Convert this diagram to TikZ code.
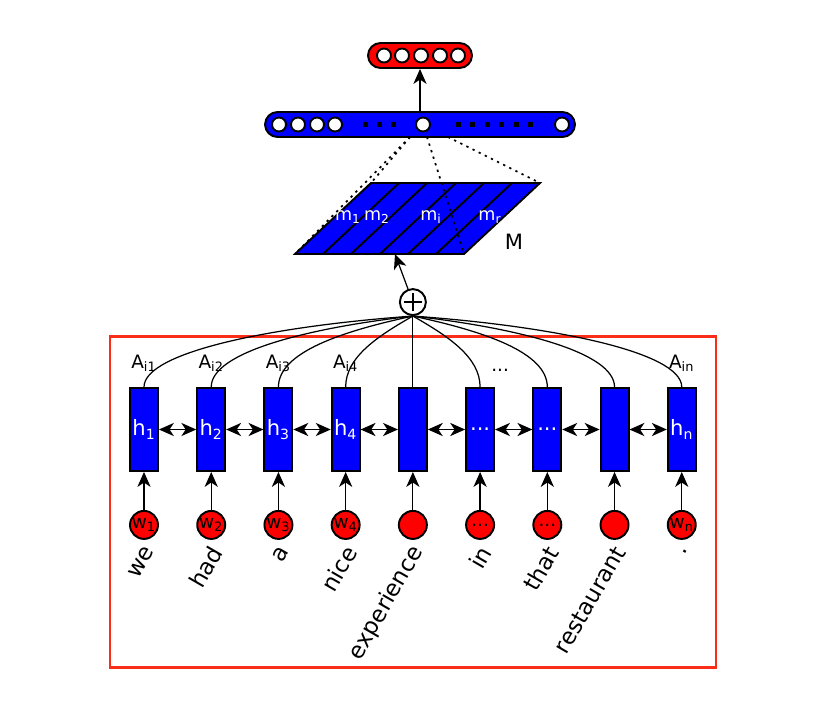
\documentclass[tikz,border=0pt]{standalone}
\usepackage{fontspec}
\setmainfont{DejaVu Sans}
\usepackage{xcolor}
\usetikzlibrary{arrows.meta, positioning}

\definecolor{framered}{RGB}{250,45,25}

\begin{document}
\begin{tikzpicture}[x=0.02cm, y=-0.02cm, >={Stealth[length=8.5pt, width=7.5pt, inset=2.5pt]}, line width=0.7pt,
        hbox/.style={rectangle, draw, line width=1.1pt, fill=blue, text=white, minimum width=0.56cm, minimum height=1.66cm, inner sep=0pt, font=\fontsize{12}{14}\selectfont},
        wnode/.style={circle, draw, line width=1.1pt, fill=red, minimum size=0.56cm, inner sep=0pt, font=\fontsize{10.5}{12}\selectfont},
        word/.style={rotate=60, anchor=east, inner sep=0pt, font=\fontsize{13}{15}\selectfont},
        alabel/.style={inner sep=0pt, font=\fontsize{10.5}{12}\selectfont},
        sumnode/.style={circle, draw, line width=1.1pt, fill=white, minimum size=0.52cm, inner sep=0pt,
            path picture={\draw[line width=0.9pt] ([xshift=-0.18cm]path picture bounding box.center) -- ([xshift=0.18cm]path picture bounding box.center)
                ([yshift=-0.18cm]path picture bounding box.center) -- ([yshift=0.18cm]path picture bounding box.center);}},
        bar/.style={rectangle, rounded corners=0.25cm, draw, line width=1.1pt, minimum height=0.5cm, inner sep=0pt},
        unit/.style={circle, draw, line width=1.1pt, fill=white, minimum size=0.28cm, inner sep=0pt},
        gapmark/.style={rectangle, fill=black, minimum size=0.1cm, inner sep=0pt},
        mlabel/.style={text=white, inner sep=0pt, font=\fontsize{10}{12}\selectfont},
        proj/.style={dash pattern=on 1.3pt off 2.6pt, line width=1pt}]

    \useasboundingbox (0,0) rectangle (840,718);

    % frame round the encoder
    \draw[framered, line width=1.7pt] (110,336) rectangle (716,667);

    % hidden states
    \node (h1) [hbox] at (144,429.5) {h\textsubscript{1}};
    \node (h2) [hbox, right=0.746cm of h1] {h\textsubscript{2}};
    \node (h3) [hbox, right=0.746cm of h2] {h\textsubscript{3}};
    \node (h4) [hbox, right=0.746cm of h3] {h\textsubscript{4}};
    \node (h5) [hbox, right=0.746cm of h4] {};
    \node (h6) [hbox, right=0.746cm of h5] {...};
    \node (h7) [hbox, right=0.746cm of h6] {...};
    \node (h8) [hbox, right=0.746cm of h7] {};
    \node (h9) [hbox, right=0.746cm of h8] {h\textsubscript{n}};

    % words
    \node (w1) [wnode, below=0.76cm of h1] {w\textsubscript{1}};
    \node (w2) [wnode, below=0.76cm of h2] {w\textsubscript{2}};
    \node (w3) [wnode, below=0.76cm of h3] {w\textsubscript{3}};
    \node (w4) [wnode, below=0.76cm of h4] {w\textsubscript{4}};
    \node (w5) [wnode, below=0.76cm of h5] {};
    \node (w6) [wnode, below=0.76cm of h6] {...};
    \node (w7) [wnode, below=0.76cm of h7] {...};
    \node (w8) [wnode, below=0.76cm of h8] {};
    \node (w9) [wnode, below=0.76cm of h9] {w\textsubscript{n}};

    \node (t1) [word] at ([xshift=0.11cm, yshift=-0.16cm]w1.south) {we};
    \node (t2) [word] at ([xshift=0.11cm, yshift=-0.16cm]w2.south) {had};
    \node (t3) [word] at ([xshift=0.11cm, yshift=-0.16cm]w3.south) {a};
    \node (t4) [word] at ([xshift=0.11cm, yshift=-0.16cm]w4.south) {nice};
    \node (t5) [word] at ([xshift=0.11cm, yshift=-0.16cm]w5.south) {experience};
    \node (t6) [word] at ([xshift=0.11cm, yshift=-0.16cm]w6.south) {in};
    \node (t7) [word] at ([xshift=0.11cm, yshift=-0.16cm]w7.south) {that};
    \node (t8) [word] at ([xshift=0.11cm, yshift=-0.16cm]w8.south) {restaurant};
    \node (t9) [word] at ([xshift=0.11cm, yshift=-0.16cm]w9.south) {.};

    % attention weights
    \node (a1) [alabel, above=0.3cm of h1] {A\textsubscript{i1}};
    \node (a2) [alabel, above=0.3cm of h2] {A\textsubscript{i2}};
    \node (a3) [alabel, above=0.3cm of h3] {A\textsubscript{i3}};
    \node (a4) [alabel, above=0.3cm of h4] {A\textsubscript{i4}};
    \node (a6) [alabel, above=0.3cm of h6, xshift=0.4cm] {...};
    \node (a9) [alabel, above=0.3cm of h9] {A\textsubscript{in}};

    \node (sum) [sumnode, above=1.42cm of h5] {};

    % sentence matrix
    \coordinate (Mbl) at (295,254);
    \coordinate (Mbr) at (464,254);
    \coordinate (Mtr) at (540,183);
    \coordinate (Mtl) at (371,183);
    \coordinate (Mtip) at (395,254);
    \filldraw[fill=blue, line width=1.1pt] (Mbl) -- (Mbr) -- (Mtr) -- (Mtl) -- cycle;
    \draw[line width=1.1pt] (323,254) -- (399,183) (351,254) -- (427,183) (380,254) -- (456,183)
        (408,254) -- (484,183) (436,254) -- (512,183);
    \node (m1) [mlabel] at (348,217) {m\textsubscript{1}};
    \node (m2) [mlabel] at (377,217) {m\textsubscript{2}};
    \node (mi) [mlabel] at (431,217) {m\textsubscript{i}};
    \node (mr) [mlabel] at (490,217) {m\textsubscript{r}};
    \node (M) [font=\fontsize{12}{14}\selectfont] at (514,242) {M};

    % hidden layer and output
    \node (hid) [bar, fill=blue, minimum width=6.2cm] at (420,124.5) {};
    \node (u1) [unit] at (279,124.5) {};
    \node (u2) [unit] at (298,124.5) {};
    \node (u3) [unit] at (317,124.5) {};
    \node (u4) [unit] at (335,124.5) {};
    \node (u5) [unit] at (423,124.5) {};
    \node (u6) [unit] at (562,124.5) {};
    \node (g1) [gapmark] at (365,124.5) {};
    \node (g2) [gapmark] at (379,124.5) {};
    \node (g3) [gapmark] at (393,124.5) {};
    \node (g4) [gapmark] at (458,124.5) {};
    \node (g5) [gapmark] at (472,124.5) {};
    \node (g6) [gapmark] at (487,124.5) {};
    \node (g7) [gapmark] at (501,124.5) {};
    \node (g8) [gapmark] at (516,124.5) {};
    \node (g9) [gapmark] at (530,124.5) {};

    \node (out) [bar, fill=red, minimum width=2.08cm] at (420,55.5) {};
    \node (o1) [unit] at (384,55.5) {};
    \node (o2) [unit] at (402,55.5) {};
    \node (o3) [unit] at (421,55.5) {};
    \node (o4) [unit] at (440,55.5) {};
    \node (o5) [unit] at (458,55.5) {};

    \coordinate (d1) at (410,137);
    \coordinate (d2) at (427,137);
    \coordinate (d3) at (448,137);

    % connectors
    \draw[->] (w1) -- (h1);
    \draw[->] (w2) -- (h2);
    \draw[->] (w3) -- (h3);
    \draw[->] (w4) -- (h4);
    \draw[->] (w5) -- (h5);
    \draw[->] (w6) -- (h6);
    \draw[->] (w7) -- (h7);
    \draw[->] (w8) -- (h8);
    \draw[->] (w9) -- (h9);

    \draw[<->] (h1) -- (h2);
    \draw[<->] (h2) -- (h3);
    \draw[<->] (h3) -- (h4);
    \draw[<->] (h4) -- (h5);
    \draw[<->] (h5) -- (h6);
    \draw[<->] (h6) -- (h7);
    \draw[<->] (h7) -- (h8);
    \draw[<->] (h8) -- (h9);

    \draw (h1.north) .. controls +(0,-35) and +(-140,10) .. (sum.south);
    \draw (h2.north) .. controls +(0,-35) and +(-105,12) .. (sum.south);
    \draw (h3.north) .. controls +(0,-35) and +(-70,15) .. (sum.south);
    \draw (h4.north) .. controls +(0,-30) and +(-35,20) .. (sum.south);
    \draw (h5.north) -- (sum.south);
    \draw (h6.north) .. controls +(0,-30) and +(35,20) .. (sum.south);
    \draw (h7.north) .. controls +(0,-35) and +(70,15) .. (sum.south);
    \draw (h8.north) .. controls +(0,-35) and +(105,12) .. (sum.south);
    \draw (h9.north) .. controls +(0,-35) and +(140,10) .. (sum.south);

    \draw[->] (sum) -- (Mtip);
    \draw[->] (hid) -- (out);

    \draw[proj] (d1) -- (Mtl);
    \draw[proj] (d1) -- (Mbl);
    \draw[proj] (d2) -- (Mbr);
    \draw[proj] (d3) -- (Mtr);
\end{tikzpicture}
\end{document}
